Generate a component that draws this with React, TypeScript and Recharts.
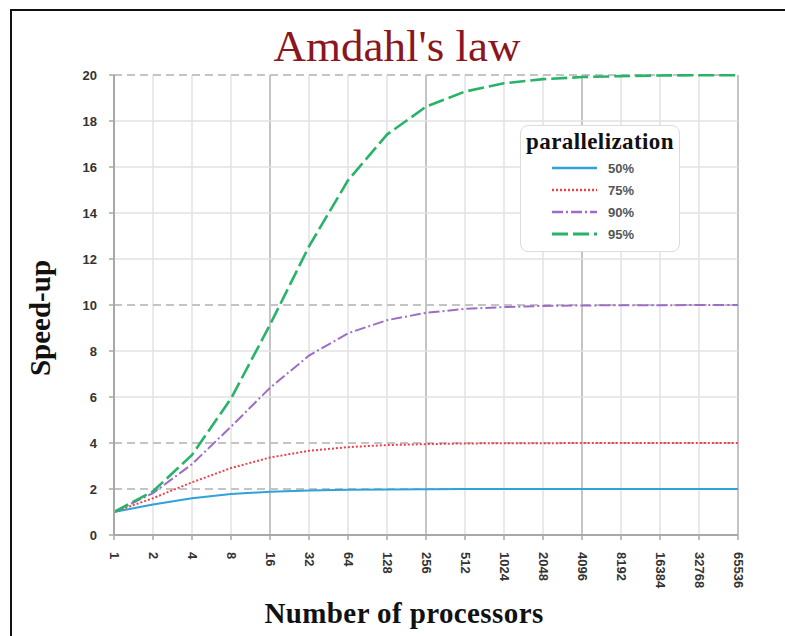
import React from 'react';
import { LineChart, Line, XAxis, YAxis, ReferenceLine, Legend, Customized } from 'recharts';

// ---- data ----
const processors = ['1', '2', '4', '8', '16', '32', '64', '128', '256', '512', '1024', '2048', '4096', '8192', '16384', '32768', '65536'];
const speedup50 = [1, 1.33, 1.6, 1.78, 1.88, 1.94, 1.97, 1.98, 1.99, 2.0, 2.0, 2.0, 2.0, 2.0, 2.0, 2.0, 2.0];
const speedup75 = [1, 1.6, 2.29, 2.91, 3.37, 3.66, 3.82, 3.91, 3.95, 3.98, 3.99, 3.99, 4.0, 4.0, 4.0, 4.0, 4.0];
const speedup90 = [1, 1.82, 3.08, 4.71, 6.4, 7.8, 8.77, 9.34, 9.66, 9.83, 9.91, 9.96, 9.98, 9.99, 9.99, 10.0, 10.0];
const speedup95 = [1, 1.9, 3.48, 5.93, 9.14, 12.55, 15.42, 17.41, 18.62, 19.28, 19.64, 19.82, 19.91, 19.95, 19.98, 19.99, 19.99];
const yTicks = [0, 2, 4, 6, 8, 10, 12, 14, 16, 18, 20];
const majorX = ['1', '16', '256', '4096', '65536'];
const dashedY = [2, 4, 10, 20];
const solidY = [6, 8, 12, 14, 16, 18];

const seriesLabels = ['50%', '75%', '90%', '95%'];
const seriesKeys = ['p50', 'p75', 'p90', 'p95'];

const data = processors.map((n, i) => ({
  n,
  p50: speedup50[i],
  p75: speedup75[i],
  p90: speedup90[i],
  p95: speedup95[i],
}));

const styles: Record<string, { color: string; dash?: string; width: number }> = {
  p50: { color: '#2FA2DA', width: 2 },
  p75: { color: '#EE4048', dash: '2 2', width: 2 },
  p90: { color: '#9E6CC6', dash: '11 3 2 3', width: 2 },
  p95: { color: '#27B469', dash: '16 5', width: 2.6 },
};

const tickFont = '"Liberation Sans", Arial, sans-serif';
const serif = '"Liberation Serif", "Times New Roman", serif';

const XTick = (props: any) => {
  const { x, y, payload } = props;
  return (
    <text
      x={x}
      y={y}
      transform={`rotate(90 ${x} ${y})`}
      textAnchor="start"
      dominantBaseline="central"
      fontFamily={tickFont}
      fontWeight="bold"
      fontSize={13}
      fill="#333"
    >
      {payload.value}
    </text>
  );
};

const LegendBox = () => (
  <div
    style={{
      position: 'relative',
      width: 160,
      height: 127,
      boxSizing: 'border-box',
      border: '1px solid #dcdcdc',
      borderRadius: 8,
      background: '#fff',
    }}
  >
    <div
      style={{
        position: 'absolute',
        left: 0,
        top: 3,
        width: 158,
        textAlign: 'center',
        fontFamily: serif,
        fontWeight: 'bold',
        fontSize: 23,
        letterSpacing: 0.4,
        color: '#111',
        lineHeight: '26px',
      }}
    >
      parallelization
    </div>
    {seriesKeys.map((k, i) => {
      const st = styles[k];
      return (
        <div key={k} style={{ position: 'absolute', left: 31, top: 33 + i * 22, height: 18, display: 'flex', alignItems: 'center' }}>
          <svg width={46} height={10} style={{ display: 'block' }}>
            <line x1={0} y1={5} x2={45} y2={5} stroke={st.color} strokeWidth={st.width + 0.5} strokeDasharray={st.dash} />
          </svg>
          <span style={{ marginLeft: 10, fontFamily: tickFont, fontWeight: 'bold', fontSize: 13, color: '#555' }}>{seriesLabels[i]}</span>
        </div>
      );
    })}
  </div>
);

const Texts = () => (
  <g>
    <text x={397} y={61} textAnchor="middle" fontFamily={serif} fontSize={45} fill="#8B1520">
      Amdahl's law
    </text>
    <text
      x={40}
      y={318}
      transform="rotate(-90 40 318)"
      textAnchor="middle"
      dominantBaseline="central"
      fontFamily={serif}
      fontWeight="bold"
      fontSize={29}
      fill="#111"
    >
      Speed-up
    </text>
    <text x={404} y={623} textAnchor="middle" fontFamily={serif} fontWeight="bold" fontSize={29} letterSpacing={0.4} fill="#111">
      Number of processors
    </text>
  </g>
);

export default function App() {
  return (
    <div style={{ position: 'absolute', left: 0, top: 0, width: 785, height: 636, background: '#fff', overflow: 'hidden' }}>
      <div
        style={{
          position: 'absolute',
          left: 10,
          top: 9,
          width: 900,
          height: 900,
          borderLeft: '2px solid #111',
          borderTop: '2px solid #111',
        }}
      />
      <div style={{ position: 'absolute', left: 0, top: 0 }}>
        <LineChart width={785} height={636} data={data} margin={{ top: 75, right: 47, bottom: 1, left: 54 }}>
          {processors.map((p) => (
            <ReferenceLine
              key={'v' + p}
              x={p}
              stroke={majorX.includes(p) ? '#c4c4c4' : '#e2e2e2'}
              strokeWidth={majorX.includes(p) ? 2 : 1.5}
            />
          ))}
          {solidY.map((v) => (
            <ReferenceLine key={'hs' + v} y={v} stroke="#e2e2e2" strokeWidth={1.5} />
          ))}
          {dashedY.map((v) => (
            <ReferenceLine key={'hd' + v} y={v} stroke="#c4c4c4" strokeWidth={2} strokeDasharray="8 5" />
          ))}
          <XAxis
            dataKey="n"
            interval={0}
            height={100}
            tick={<XTick />}
            tickMargin={12}
            tickSize={5}
            axisLine={{ stroke: '#a8a8a8', strokeWidth: 2 }}
            tickLine={{ stroke: '#a8a8a8', strokeWidth: 1.5 }}
          />
          <YAxis
            domain={[0, 20]}
            ticks={yTicks}
            width={60}
            interval={0}
            tickSize={5}
            tickMargin={12}
            axisLine={{ stroke: '#a8a8a8', strokeWidth: 2 }}
            tickLine={{ stroke: '#a8a8a8', strokeWidth: 1.5 }}
            tick={{ fontFamily: tickFont, fontWeight: 'bold', fontSize: 13, fill: '#333' }}
          />
          {seriesKeys.map((k, i) => (
            <Line
              key={k}
              dataKey={k}
              name={seriesLabels[i]}
              type="linear"
              stroke={styles[k].color}
              strokeWidth={styles[k].width}
              strokeDasharray={styles[k].dash}
              dot={false}
              activeDot={false}
              isAnimationActive={false}
            />
          ))}
          <Legend
            layout="horizontal"
            align="center"
            verticalAlign="middle"
            content={<LegendBox />}
            wrapperStyle={{ left: 520, top: 125, width: 160, height: 127 }}
          />
          <Customized component={Texts} />
        </LineChart>
      </div>
    </div>
  );
}
